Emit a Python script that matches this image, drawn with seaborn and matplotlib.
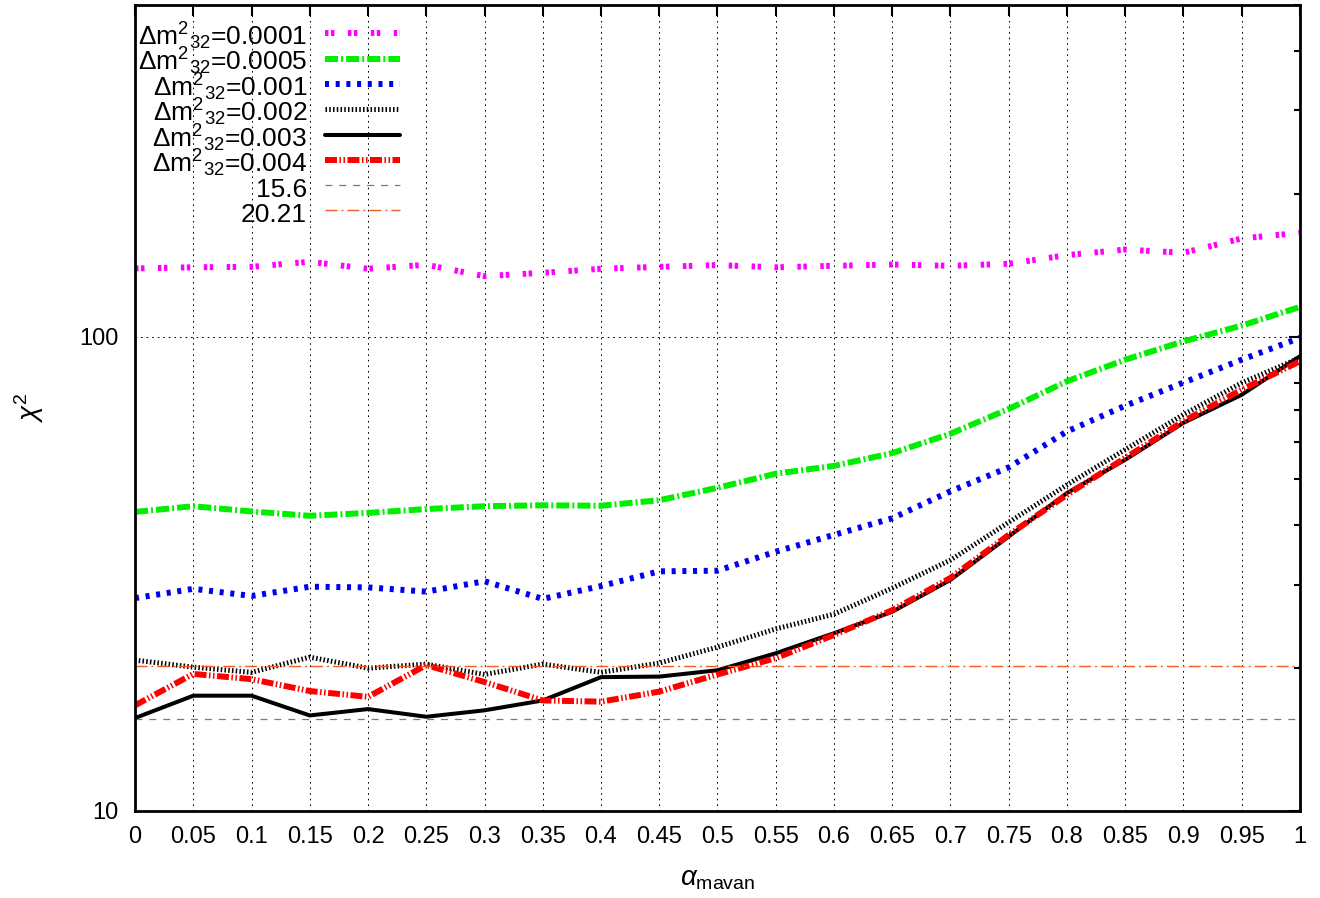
import numpy as np
import pandas as pd
import matplotlib
matplotlib.use("Agg")
import matplotlib.pyplot as plt
import matplotlib.ticker as ticker
import seaborn as sns

# x values and tick labels
alpha = [0.0, 0.05, 0.1, 0.15, 0.2, 0.25, 0.3, 0.35, 0.4, 0.45, 0.5,
         0.55, 0.6, 0.65, 0.7, 0.75, 0.8, 0.85, 0.9, 0.95, 1.0]
xtick_labels = ["0", "0.05", "0.1", "0.15", "0.2", "0.25", "0.3", "0.35", "0.4", "0.45", "0.5",
                "0.55", "0.6", "0.65", "0.7", "0.75", "0.8", "0.85", "0.9", "0.95", "1"]

# chi^2 for each delta m^2_32
chi2_0001 = [139.2, 140.0, 140.3, 143.8, 139.0, 141.7, 134.1, 136.3, 139.0, 140.3, 141.5,
             140.0, 141.0, 141.9, 141.0, 142.4, 148.5, 152.6, 150.2, 161.0, 165.5]
chi2_0005 = [42.7, 43.9, 42.8, 41.9, 42.5, 43.3, 43.9, 44.1, 44.0, 45.2, 48.0,
             51.4, 53.4, 56.8, 62.4, 70.4, 80.5, 89.4, 97.7, 105.5, 115.5]
chi2_001 = [28.1, 29.4, 28.4, 29.7, 29.6, 29.0, 30.5, 28.0, 29.8, 32.0, 32.1,
            35.2, 38.2, 41.4, 47.2, 53.0, 63.1, 71.5, 80.0, 89.4, 99.4]
chi2_002 = [20.8, 20.1, 19.6, 21.1, 20.0, 20.4, 19.4, 20.4, 19.6, 20.5, 22.15,
            24.2, 26.0, 29.5, 33.8, 40.6, 48.7, 57.8, 68.5, 79.9, 90.2]
chi2_003 = [15.7, 17.5, 17.5, 15.9, 16.4, 15.8, 16.3, 17.1, 19.15, 19.2, 19.8,
            21.5, 23.7, 26.3, 30.7, 37.9, 46.8, 55.0, 65.8, 75.4, 90.9]
chi2_004 = [16.7, 19.45, 18.96, 17.9, 17.4, 20.3, 18.7, 17.1, 17.0, 17.85, 19.4,
            21.0, 23.5, 26.5, 31.0, 38.2, 46.4, 55.5, 66.3, 77.3, 88.7]
dm_labels = ["0.0001", "0.0005", "0.001", "0.002", "0.003", "0.004"]

# horizontal reference levels
levels = [15.6, 20.21]
level_labels = ["15.6", "20.21"]

sns.set_theme(style="white")
plt.rcParams["font.family"] = ["Liberation Sans", "DejaVu Sans"]
plt.rcParams["mathtext.fontset"] = "custom"
plt.rcParams["mathtext.rm"] = "Liberation Sans"
plt.rcParams["mathtext.it"] = "Liberation Sans:italic"
plt.rcParams["mathtext.bf"] = "Liberation Sans:bold"
plt.rcParams["lines.scale_dashes"] = False
plt.rcParams["text.color"] = "black"
plt.rcParams["axes.labelcolor"] = "black"

df = pd.DataFrame({"alpha": alpha, "0.0001": chi2_0001, "0.0005": chi2_0005,
                   "0.001": chi2_001, "0.002": chi2_002, "0.003": chi2_003,
                   "0.004": chi2_004})

styles = {
    "0.0001": dict(color="#ff00ff", lw=4.3, ls=(0, (2.5, 1.8, 2.5, 9.7))),
    "0.0005": dict(color="#00ee00", lw=4.3, ls=(0, (9.4, 2.2, 1.4, 2.2))),
    "0.001": dict(color="#0000ee", lw=4.3, ls=(0, (2.9, 4.8))),
    "0.002": dict(color="black", lw=3.6, ls=(0, (1.1, 1.6))),
    "0.003": dict(color="black", lw=2.9, ls="-"),
    "0.004": dict(color="#ff0000", lw=4.3, ls=(0, (8.6, 1.8, 1.1, 1.8, 1.1, 1.8))),
}
level_styles = [dict(color="#7a7a7a", lw=0.9, ls=(0, (5, 5))),
                dict(color="#f25c23", lw=1.0, ls=(0, (8.6, 2.9, 1.4, 2.9)))]

fig, ax = plt.subplots(figsize=(13.2, 8.98), dpi=100)
fig.subplots_adjust(left=0.1023, right=0.9848, bottom=0.0969, top=0.9944)

for name in dm_labels:
    st = styles[name]
    sns.lineplot(data=df, x="alpha", y=name, ax=ax, color=st["color"],
                 linewidth=st["lw"], linestyle=st["ls"],
                 label="Δm$^{2}$$_{32}$=" + name)

for lev, lab, st in zip(levels, level_labels, level_styles):
    ax.axhline(lev, color=st["color"], linewidth=st["lw"], linestyle=st["ls"], label=lab)

ax.set_yscale("log")
ax.set_xlim(0, 1)
ax.set_ylim(10, 500)
ax.set_xticks(alpha)
ax.set_xticklabels(xtick_labels)
ax.set_yticks([10, 100])
ax.set_yticklabels(["10", "100"])
ax.yaxis.set_minor_locator(ticker.LogLocator(base=10, subs=np.arange(2, 10)))
ax.yaxis.set_minor_formatter(ticker.NullFormatter())

ax.tick_params(which="both", direction="in", top=True, right=True, colors="black")
ax.tick_params(which="major", length=8, width=1.5, labelsize=17, pad=11)
ax.tick_params(which="minor", length=4.5, width=1.5)
ax.tick_params(axis="y", which="major", pad=12)

ax.grid(True, which="major", color="black", linewidth=0.7, linestyle=(0, (1.2, 2.8)))
for sp in ax.spines.values():
    sp.set_color("black")
    sp.set_linewidth(2)

ax.set_xlabel(r"$\alpha_{\mathrm{mavan}}$", fontsize=20, labelpad=13)
ax.set_ylabel(r"$\chi^{2}$", fontsize=20, labelpad=24)

ax.legend(loc="upper left", bbox_to_anchor=(0, 0.984), borderaxespad=0, borderpad=0.1,
          frameon=False, markerfirst=False, fontsize=19, handlelength=2.85,
          handletextpad=0.68, handleheight=1.45, labelspacing=-0.24)

fig.savefig("out.png", dpi=100)
